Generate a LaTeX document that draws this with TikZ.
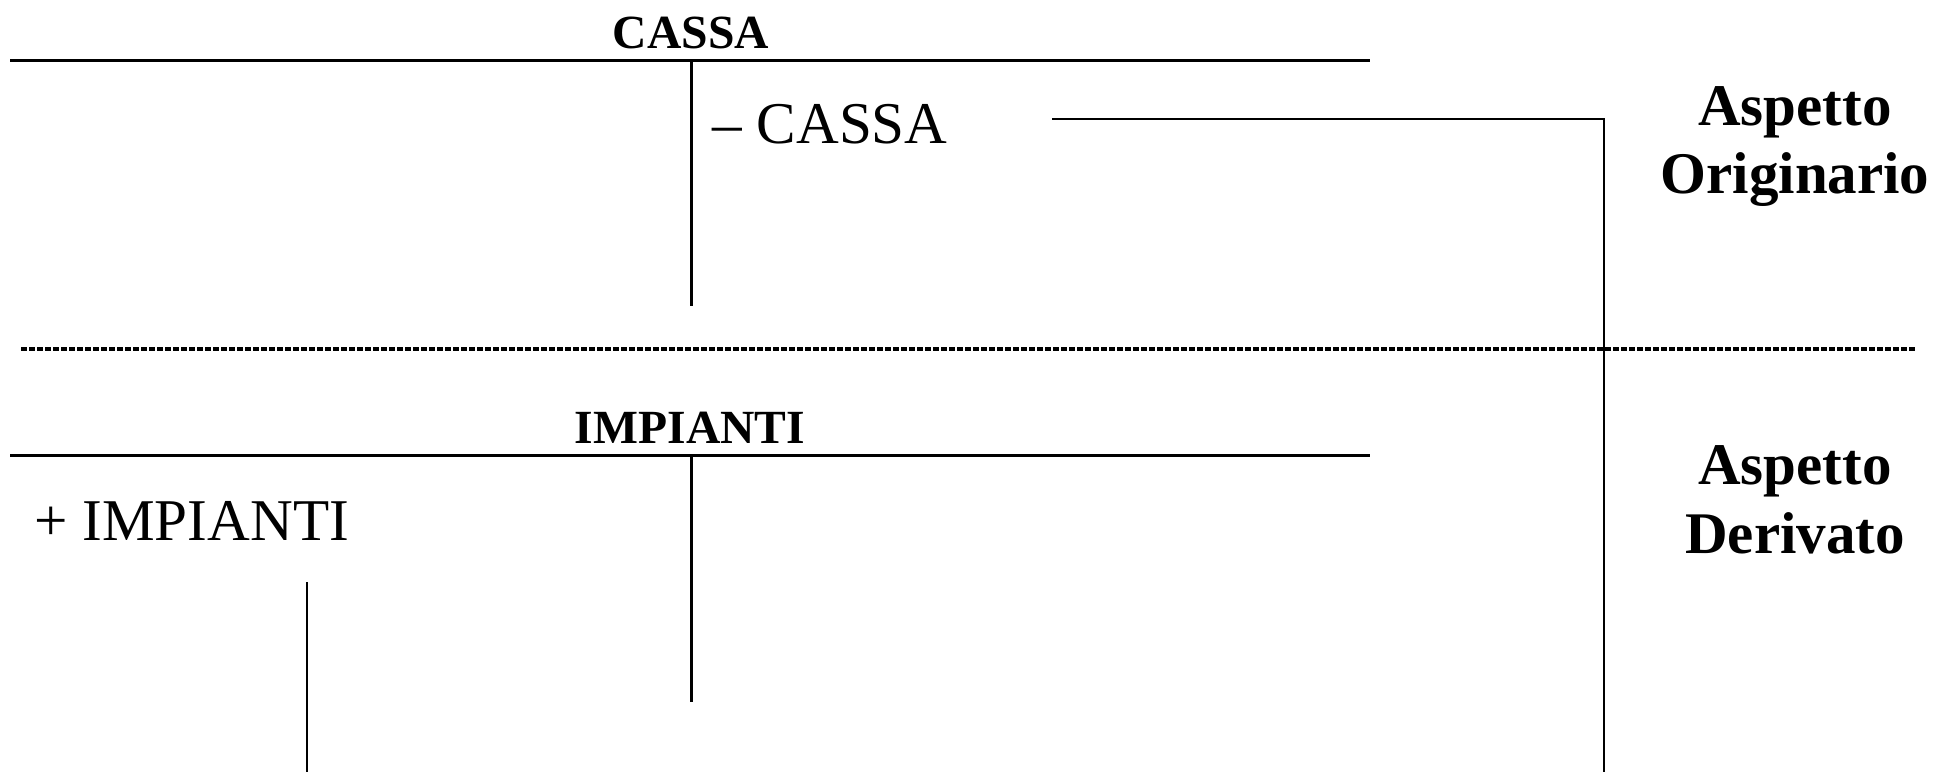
\documentclass[tikz,border=0pt]{standalone}
\usepackage{fontspec}
\setmainfont{Liberation Serif}
\begin{document}
\begin{tikzpicture}[x=0.5pt,y=-0.5pt,
  title/.style={font=\fontsize{23.8}{27}\selectfont\bfseries, anchor=base, inner sep=0pt},
  entry/.style={font=\fontsize{29.6}{34}\selectfont, anchor=base west, inner sep=0pt},
  aspect/.style={font=\fontsize{29.5}{35}\selectfont\bfseries, anchor=base, inner sep=0pt, align=center},
  tline/.style={line width=1.5pt},
  conn/.style={line width=0.8pt},
  sep/.style={line width=2pt, dash pattern=on 3pt off 1pt}]
\useasboundingbox (0,0) rectangle (1950,772);
% CASSA account
\node[title] (cassaT) at (691,48) {CASSA};
\coordinate (c1) at (10,60);
\coordinate (c2) at (1370,60);
\coordinate (cv1) at (691,60);
\coordinate (cv2) at (691,306);
\draw[tline] (c1) -- (c2);
\draw[tline] (cv1) -- (cv2);
\node[entry] (mcassa) at (712,143) {– CASSA};
% IMPIANTI account
\node[title] (impT) at (690,443) {IMPIANTI};
\coordinate (i1) at (10,455);
\coordinate (i2) at (1370,455);
\coordinate (iv1) at (691,455);
\coordinate (iv2) at (691,702);
\draw[tline] (i1) -- (i2);
\draw[tline] (iv1) -- (iv2);
\node[entry] (pimp) at (34,540) {+ IMPIANTI};
% separator
\coordinate (s1) at (21,349);
\coordinate (s2) at (1915,349);
\draw[sep] (s1) -- (s2);
% connectors
\coordinate (k1) at (1052,119);
\coordinate (k2) at (1604,119);
\coordinate (k3) at (1604,772);
\draw[conn] (k1) -- (k2) -- (k3);
\coordinate (p1) at (307,582);
\coordinate (p2) at (307,772);
\draw[conn] (p1) -- (p2);
% aspects
\node[aspect] (orig) at (1795,125) {Aspetto};
\node[aspect] (orig2) at (1795,193) {Originario};
\node[aspect] (der) at (1795,484) {Aspetto};
\node[aspect] (der2) at (1795,553) {Derivato};
\end{tikzpicture}
\end{document}
